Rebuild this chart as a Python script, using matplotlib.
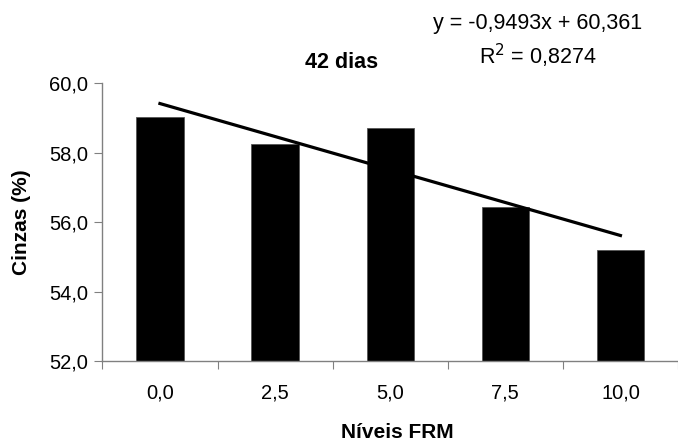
import matplotlib
matplotlib.use('Agg')
import matplotlib.pyplot as plt
import numpy as np

plt.rcParams['font.family'] = ['Liberation Sans', 'DejaVu Sans']

# dados
niveis = ['0,0', '2,5', '5,0', '7,5', '10,0']
cinzas = [59.03, 58.24, 58.71, 56.44, 55.19]
slope, intercept = -0.9493, 60.361
yticks = [52.0, 54.0, 56.0, 58.0, 60.0]
ytick_labels = ['52,0', '54,0', '56,0', '58,0', '60,0']

fig = plt.figure(figsize=(6.78, 4.42), dpi=100)
ax = fig.add_axes([0.151, 0.183, 0.849, 0.629])

x = np.arange(len(niveis))
ax.bar(x, np.array(cinzas) - 52.0, bottom=52.0, width=0.41,
       color='black', edgecolor='#555555', linewidth=0.6, zorder=2)

# linha de tendência (x = 1..5)
xt = np.array([1, 5])
ax.plot(xt - 1, slope * xt + intercept, color='black', linewidth=2.3, zorder=3)

ax.set_xlim(-0.5, 4.5)
ax.set_ylim(52.0, 60.0)
ax.set_yticks(yticks)
ax.set_yticklabels(ytick_labels)
ax.set_xticks(np.arange(len(niveis) + 1) - 0.5, minor=False)
ax.set_xticklabels([])
ax.set_xticks(x, minor=True)
ax.set_xticklabels(niveis, minor=True)

ax.tick_params(axis='x', which='minor', length=0, labelsize=14.5, pad=16)
ax.tick_params(axis='x', which='major', length=6, color='#808080', direction='out')
ax.tick_params(axis='y', length=6, color='#808080', labelsize=14.5, pad=4)

for s in ['top', 'right']:
    ax.spines[s].set_visible(False)
for s in ['left', 'bottom']:
    ax.spines[s].set_color('#808080')
    ax.spines[s].set_linewidth(1.0)

ax.set_ylabel('Cinzas (%)', fontsize=15, fontweight='bold', labelpad=13)
fig.text(397 / 678, 1 - 432 / 442, 'Níveis FRM', ha='center', va='center',
         fontsize=15, fontweight='bold')

fig.text(342 / 678, 1 - 62 / 442, '42 dias', ha='center', va='center',
         fontsize=15.5, fontweight='bold')
fig.text(538 / 678, 1 - 24 / 442, 'y = -0,9493x + 60,361', ha='center', va='center',
         fontsize=15.5)
fig.text(538 / 678, 1 - 56 / 442, r'R$^2$ = 0,8274', ha='center', va='center',
         fontsize=15.5)

fig.savefig('out.png', dpi=100, facecolor='white')
